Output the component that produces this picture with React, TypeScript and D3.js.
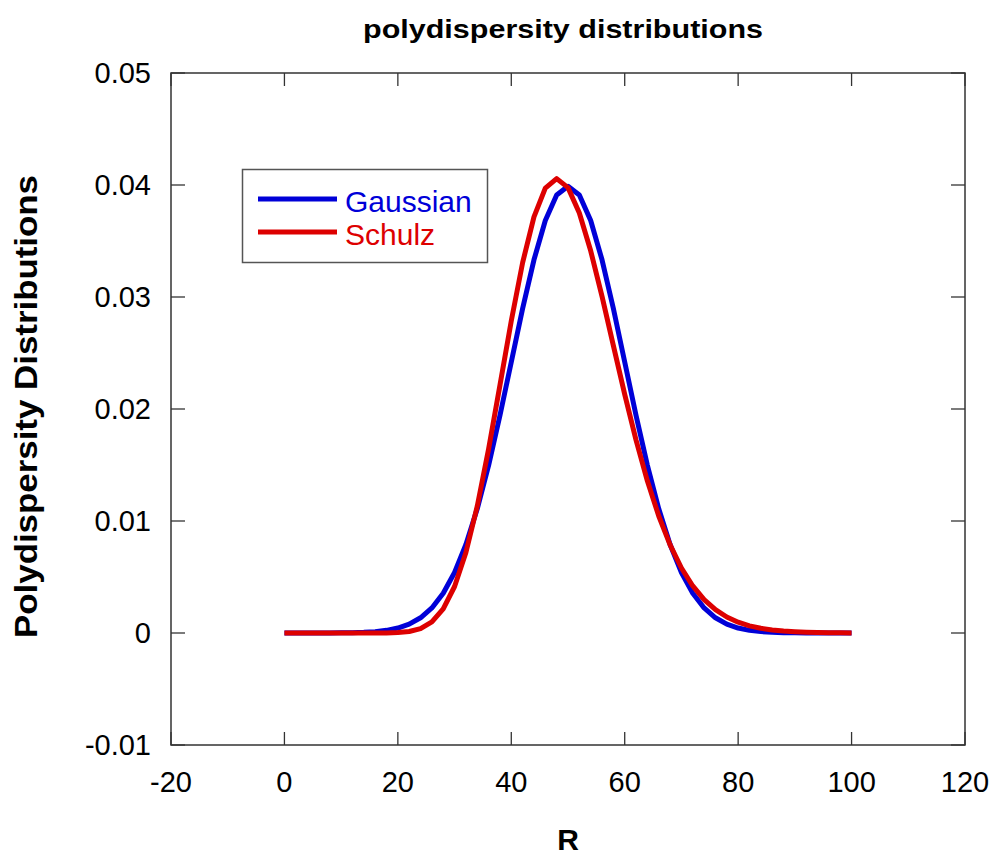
import React from "react";
import * as d3 from "d3";

const R = [0, 2, 4, 6, 8, 10, 12, 14, 16, 18, 20, 22, 24, 26, 28, 30, 32, 34, 36, 38, 40, 42, 44, 46, 48, 50,
  52, 54, 56, 58, 60, 62, 64, 66, 68, 70, 72, 74, 76, 78, 80, 82, 84, 86, 88, 90, 92, 94, 96, 98, 100];

const gaussian = [0, 0, 0.000001, 0.000003, 0.000006, 0.000013, 0.000029, 0.000061, 0.000123,
  0.000238, 0.00044, 0.00079, 0.00136, 0.00224, 0.00355, 0.0054, 0.0079, 0.01109, 0.01497, 0.01942,
  0.0242, 0.02897, 0.03332, 0.03683, 0.0391, 0.03989,
  0.0391, 0.03683, 0.03332, 0.02897, 0.0242, 0.01942, 0.01497, 0.01109, 0.0079, 0.0054, 0.00355,
  0.00224, 0.00136, 0.00079, 0.00044, 0.000238, 0.000123, 0.000061, 0.000029, 0.000013, 0.000006,
  0.000003, 0.000001, 0, 0];

const schulz = [0, 0, 0, 0, 0, 0, 0, 0, 0.000001, 0.000008, 0.000037, 0.000133, 0.000394, 0.000989,
  0.002155, 0.004152, 0.007189, 0.011327, 0.016434, 0.022126, 0.027872, 0.033069, 0.037155, 0.039722,
  0.04057, 0.039764, 0.037496, 0.034124, 0.030048, 0.025664, 0.021305, 0.017216, 0.013567, 0.010446,
  0.007869, 0.005803, 0.004199, 0.002981, 0.00208, 0.001427, 0.000964, 0.000641, 0.000421, 0.000272,
  0.000174, 0.00011, 0.000068, 0.000042, 0.000026, 0.000016, 0.00001];

const xTicks = [-20, 0, 20, 40, 60, 80, 100, 120];
const yTicks = [-0.01, 0, 0.01, 0.02, 0.03, 0.04, 0.05];
const yTickLabels = ["-0.01", "0", "0.01", "0.02", "0.03", "0.04", "0.05"];

const seriesNames = ["Gaussian", "Schulz"];
const seriesColors = ["#0000d8", "#dd0000"];

const W = 993;
const H = 857;
const L = 171, Rr = 965, T = 73, B = 745;
const FONT = "'Liberation Sans', Arial, Helvetica, sans-serif";

export default function App() {
  const x = d3.scaleLinear().domain([-20, 120]).range([L, Rr]);
  const y = d3.scaleLinear().domain([-0.01, 0.05]).range([B, T]);
  const line = d3.line<[number, number]>().x(d => x(d[0])).y(d => y(d[1]));
  const series = [gaussian, schulz];
  const tick = 13;
  const axisColor = "#333";

  return (
    <svg width={W} height={H} style={{ position: "absolute", left: 0, top: 0, background: "#fff" }}
      fontFamily={FONT}>
      <rect x={0} y={0} width={W} height={H} fill="#fff" />
      {/* title */}
      <text x={563} y={37.5} textAnchor="middle" fontSize={25} fontWeight="bold" fill="#000"
        textLength={400} lengthAdjust="spacingAndGlyphs">polydispersity distributions</text>

      {/* frame */}
      <rect x={L} y={T} width={Rr - L} height={B - T} fill="none" stroke={axisColor} strokeWidth={1.5} />

      {/* x ticks */}
      {xTicks.map(t => (
        <g key={"x" + t}>
          <line x1={x(t)} x2={x(t)} y1={B} y2={B - tick} stroke={axisColor} strokeWidth={1.3} />
          <line x1={x(t)} x2={x(t)} y1={T} y2={T + tick} stroke={axisColor} strokeWidth={1.3} />
          <text x={x(t)} y={791.5} textAnchor="middle" fontSize={29} fill="#000">{t}</text>
        </g>
      ))}
      {/* y ticks */}
      {yTicks.map((t, i) => (
        <g key={"y" + t}>
          <line x1={L} x2={L + tick + 1} y1={y(t)} y2={y(t)} stroke={axisColor} strokeWidth={1.3} />
          <line x1={Rr} x2={Rr - tick - 1} y1={y(t)} y2={y(t)} stroke={axisColor} strokeWidth={1.3} />
          <text x={151} y={y(t)} dy="0.35em" textAnchor="end" fontSize={29} fill="#000">{yTickLabels[i]}</text>
        </g>
      ))}

      {/* curves */}
      {series.map((s, k) => (
        <path key={seriesNames[k]} d={line(R.map((r, i) => [r, s[i]] as [number, number])) || ""}
          fill="none" stroke={seriesColors[k]} strokeWidth={5} strokeLinejoin="round" />
      ))}

      {/* legend */}
      <rect x={242.5} y={169.5} width={245} height={93} fill="#fff" stroke="#555" strokeWidth={1.5} />
      {seriesNames.map((n, k) => (
        <g key={"leg" + n}>
          <line x1={258} x2={337} y1={199 + k * 33} y2={199 + k * 33} stroke={seriesColors[k]} strokeWidth={5} />
          <text x={345} y={212 + k * 32.5} fontSize={30} fill={seriesColors[k]}>{n}</text>
        </g>
      ))}

      {/* axis labels */}
      <text transform="translate(37,406.5) rotate(-90)" textAnchor="middle" fontSize={32} fontWeight="bold"
        fill="#000" textLength={463} lengthAdjust="spacingAndGlyphs">Polydispersity Distributions</text>
      <text x={568} y={849.5} textAnchor="middle" fontSize={30} fontWeight="bold" fill="#000">R</text>
    </svg>
  );
}
